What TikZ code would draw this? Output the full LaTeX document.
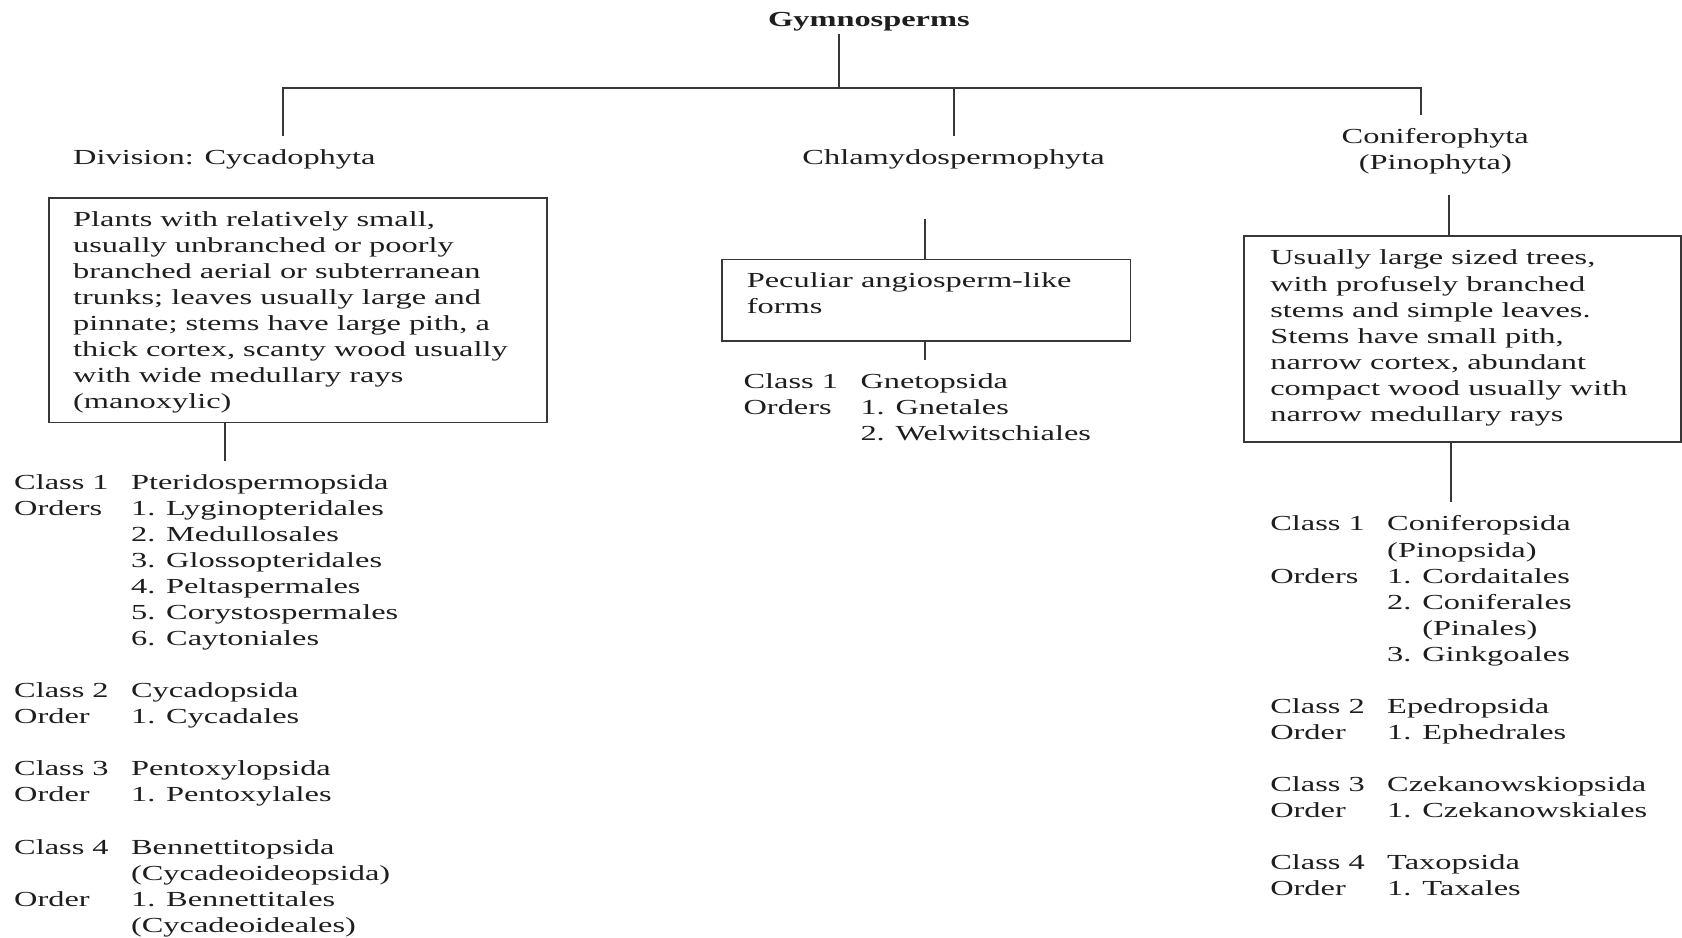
\documentclass[tikz,border=0pt]{standalone}
\usepackage{fontspec}
\setmainfont{Liberation Serif}[FakeStretch=1.51]
\definecolor{ink}{RGB}{30,30,30}
\definecolor{lnc}{RGB}{55,55,55}
\newcommand\lcolcell[1]{\makebox[109pt][l]{#1}}
\begin{document}
\begin{tikzpicture}[x=1pt,y=-1pt,
  txt/.style={inner sep=0pt, anchor=base west, font=\fontsize{20}{24.3}\selectfont, text=ink},
  ln/.style={draw=lnc, line width=1.7pt},
  boxst/.style={draw=lnc, line width=1.7pt, inner sep=0pt, anchor=north west}]
\useasboundingbox (0,0) rectangle (1568,874);
\fill[white] (0,0) rectangle (1568,874);

% title
\node[txt, anchor=base, font=\fontsize{20}{24.3}\selectfont\bfseries] (gym) at (810,25) {Gymnosperms};
\coordinate (gymfoot) at (782,32);
\coordinate (bar) at (782,82);
\coordinate (dropl) at (264,127);
\coordinate (dropm) at (889,127);
\coordinate (dropr) at (1325,107);
\draw[ln] (gymfoot) -- (bar);
\draw[ln] (dropl) -- (dropl |- bar) -- (dropr |- bar) -- (dropr);
\draw[ln] (dropm |- bar) -- (dropm);

% division labels
\node[txt] (cyc) at (68,153) {Division: Cycadophyta};
\node[txt, anchor=base] (chl) at (889,153) {Chlamydospermophyta};
\node[txt, anchor=base, align=center] (con) at (1338,134) {\begin{tabular}[t]{@{}c@{}}Coniferophyta\\(Pinophyta)\end{tabular}};

% boxes
\node[boxst, minimum width=464pt, minimum height=209pt] (cbox) at (45,184) {};
\node[boxst, minimum width=381pt, minimum height=76pt] (mbox) at (672,241) {};
\node[boxst, minimum width=407pt, minimum height=192pt] (rbox) at (1159,219) {};

% box texts
\node[txt] (ctext) at (68,211) {\begin{tabular}[t]{@{}l@{}}
Plants with relatively small,\\
usually unbranched or poorly\\
branched aerial or subterranean\\
trunks; leaves usually large and\\
pinnate; stems have large pith, a\\
thick cortex, scanty wood usually\\
with wide medullary rays\\
(manoxylic)
\end{tabular}};
\node[txt] (mtext) at (696,268) {\begin{tabular}[t]{@{}l@{}}
Peculiar angiosperm-like\\
forms
\end{tabular}};
\node[txt] (rtext) at (1184,247) {\begin{tabular}[t]{@{}l@{}}
Usually large sized trees,\\
with profusely branched\\
stems and simple leaves.\\
Stems have small pith,\\
narrow cortex, abundant\\
compact wood usually with\\
narrow medullary rays
\end{tabular}};

% connectors around boxes
\coordinate (ctop) at (210,430);
\coordinate (mtop) at (862,204);
\coordinate (mbot) at (862,336);
\coordinate (rtop) at (1351,182);
\coordinate (rbot) at (1353,468);
\draw[ln] (ctop |- cbox.south) -- (ctop);
\draw[ln] (mtop) -- (mtop |- mbox.north);
\draw[ln] (mbot |- mbox.south) -- (mbot);
\draw[ln] (rtop) -- (rtop |- rbox.north);
\draw[ln] (rbot |- rbox.south) -- ++(0,0) -- (rbot |- 0,431) -- (rbot);

% lists
\node[txt] (clist) at (13,456) {\begin{tabular}[t]{@{}l@{}l@{}}
\lcolcell{Class 1}&Pteridospermopsida\\
\lcolcell{Orders}&1. Lyginopteridales\\
&2. Medullosales\\
&3. Glossopteridales\\
&4. Peltaspermales\\
&5. Corystospermales\\
&6. Caytoniales\\
&\\
Class 2&Cycadopsida\\
Order&1. Cycadales\\
&\\
Class 3&Pentoxylopsida\\
Order&1. Pentoxylales\\
&\\
Class 4&Bennettitopsida\\
&(Cycadeoideopsida)\\
Order&1. Bennettitales\\
&(Cycadeoideales)
\end{tabular}};

\node[txt] (mlist) at (693,362) {\begin{tabular}[t]{@{}l@{}l@{}}
\lcolcell{Class 1}&Gnetopsida\\
\lcolcell{Orders}&1. Gnetales\\
&2. Welwitschiales
\end{tabular}};

\node[txt] (rlist) at (1184,495) {\begin{tabular}[t]{@{}l@{}l@{}}
\lcolcell{Class 1}&Coniferopsida\\
&(Pinopsida)\\
\lcolcell{Orders}&1. Cordaitales\\
&2. Coniferales\\
&\phantom{2. }(Pinales)\\
&3. Ginkgoales\\
&\\
Class 2&Epedropsida\\
Order&1. Ephedrales\\
&\\
Class 3&Czekanowskiopsida\\
Order&1. Czekanowskiales\\
&\\
Class 4&Taxopsida\\
Order&1. Taxales
\end{tabular}};
\end{tikzpicture}
\end{document}
